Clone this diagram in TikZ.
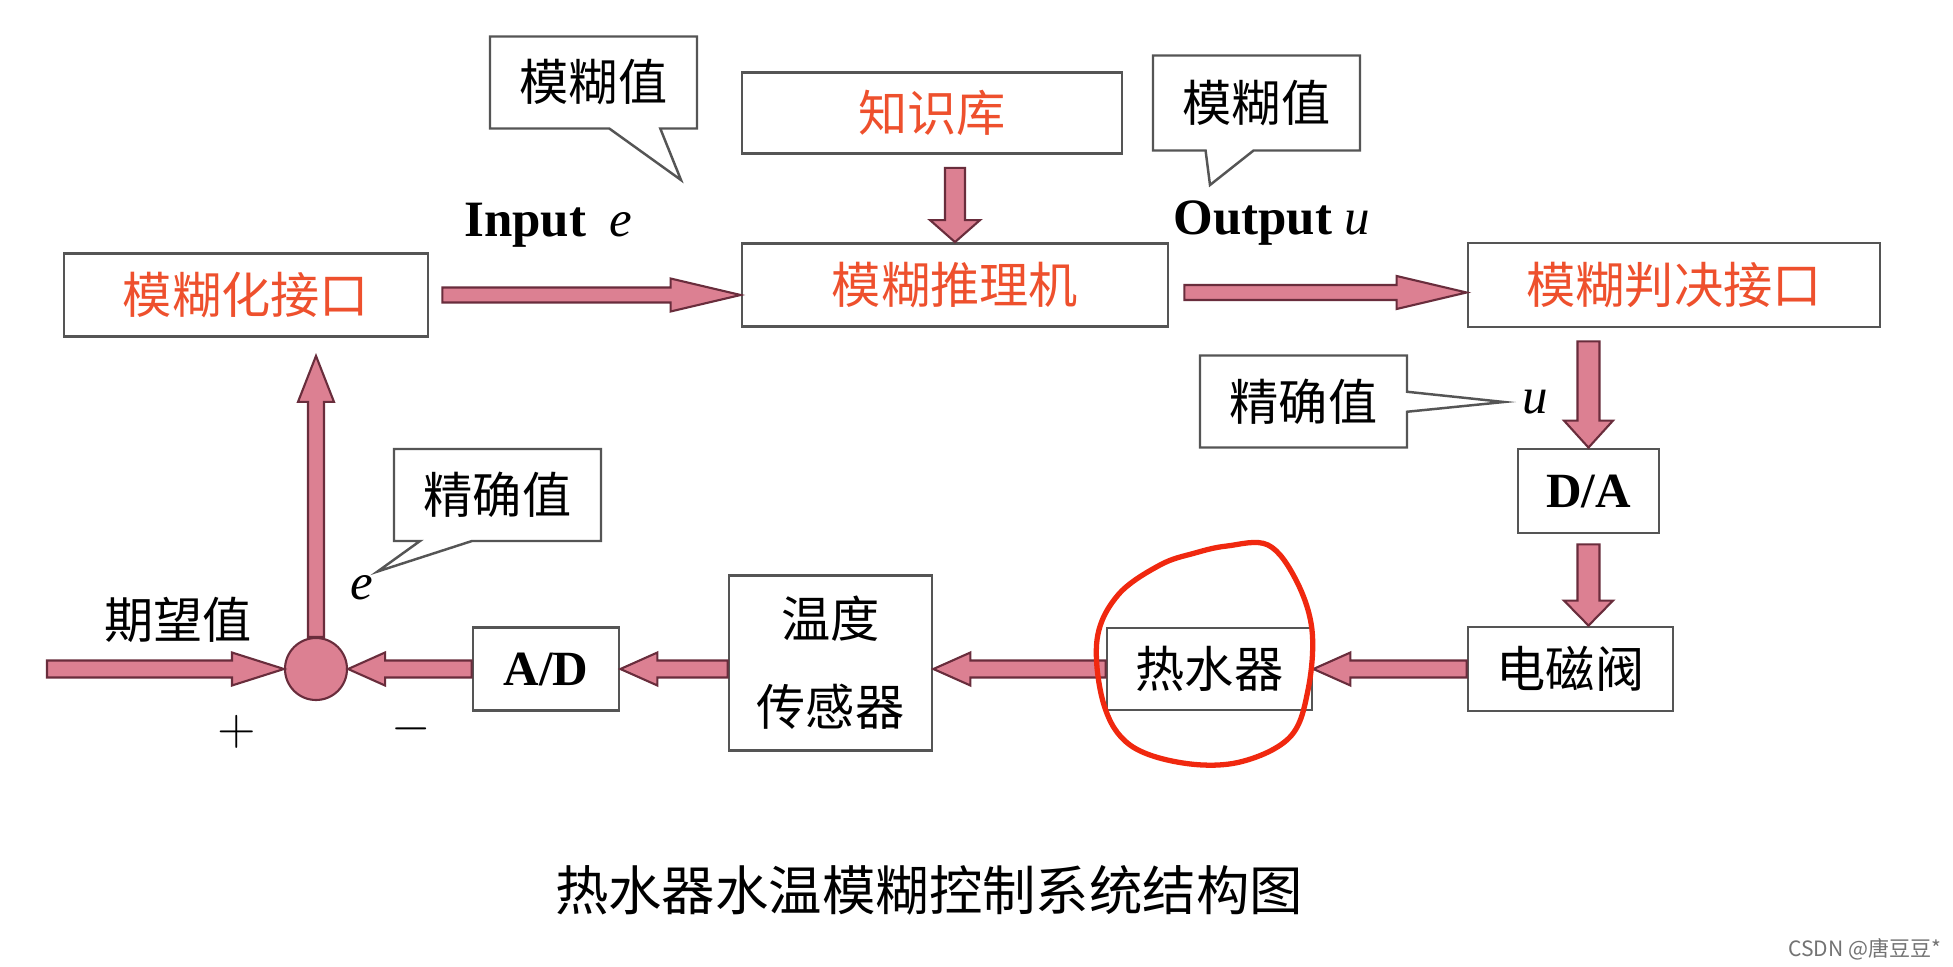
\documentclass[tikz,border=0pt]{standalone}
\usepackage{xcolor}
\usepackage{fontspec}
\usepackage{tikz}
\usetikzlibrary{calc,shapes.callouts}
\setmainfont{Liberation Serif}
\newfontfamily\cjk{Noto Sans CJK SC}

\definecolor{arrowpink}{RGB}{220,128,146}
\definecolor{arrowedge}{RGB}{105,45,60}
\definecolor{boxline}{RGB}{85,85,85}
\definecolor{fuzzyred}{RGB}{238,80,45}
\definecolor{penred}{RGB}{240,40,15}

% block arrow: from, to, half shaft, half head, head length (cm)
\newcommand{\fatarrow}[5]{%
  \coordinate (arrS) at (#1);
  \coordinate (arrT) at (#2);
  \coordinate (arrB) at ($(arrT)!#5cm!(arrS)$);
  \draw[fatarrow] ($(arrS)!#3cm!90:(arrT)$) -- ($(arrB)!#3cm!90:(arrT)$)
    -- ($(arrB)!#4cm!90:(arrT)$) -- (arrT) -- ($(arrB)!#4cm!-90:(arrT)$)
    -- ($(arrB)!#3cm!-90:(arrT)$) -- ($(arrS)!#3cm!-90:(arrT)$) -- cycle;}

\tikzset{
  box/.style={draw=boxline, line width=0.8pt, fill=white, inner sep=0pt,
    font=\cjk\fontsize{14}{16}\selectfont},
  fuzzy/.style={box, text=fuzzyred},
  note/.style={rectangle callout, draw=boxline, line width=0.7pt, fill=white,
    inner sep=0pt, minimum width=2.07cm, minimum height=0.92cm,
    font=\cjk\fontsize{14}{16}\selectfont},
  latin/.style={font=\fontsize{14.5}{16}\selectfont, inner sep=1pt},
  fatarrow/.style={fill=arrowpink, draw=arrowedge, line width=0.6pt, line join=miter},
  pen/.style={draw=penred, line width=1.5pt}
}

\begin{document}
\begin{tikzpicture}
\useasboundingbox[fill=white] (0,0) rectangle (19.53,9.66);

% fuzzy part
\node[fuzzy, minimum width=3.64cm, minimum height=0.83cm] (fz) at (2.46,6.71) {模糊化接口};
\node[fuzzy, minimum width=3.80cm, minimum height=0.81cm] (kb) at (9.32,8.53) {知识库};
\node[fuzzy, minimum width=4.26cm, minimum height=0.83cm] (eng) at (9.55,6.81) {模糊推理机};
\node[fuzzy, minimum width=4.12cm, minimum height=0.84cm] (dec) at (16.74,6.81) {模糊判决接口};

% plant part
\node[box, font=\fontsize{14}{16}\selectfont\bfseries, minimum width=1.41cm, minimum height=0.84cm] (da) at (15.885,4.75) {D/A};
\node[box, minimum width=2.05cm, minimum height=0.84cm] (valve) at (15.705,2.97) {电磁阀};
\node[box, minimum width=2.05cm, minimum height=0.82cm] (heater) at (12.095,2.97) {热水器};
\node[box, align=center, font=\cjk\fontsize{14}{25}\selectfont, minimum width=2.03cm, minimum height=1.75cm] (sensor) at (8.305,3.03) {温度\\传感器};
\node[box, font=\fontsize{14}{16}\selectfont\bfseries, minimum width=1.46cm, minimum height=0.83cm] (ad) at (5.46,2.97) {A/D};
\node[circle, fill=arrowpink, draw=arrowedge, line width=0.6pt, minimum size=0.62cm, inner sep=0pt] (sum) at (3.16,2.97) {};

% labels
\node[latin] (inlbl) at (5.48,7.41) {\textbf{Input}\hspace{0.45em}\textit{e}};
\node[latin] (outlbl) at (12.72,7.43) {\textbf{Output}~\textit{u}};
\node[latin] (elbl) at (3.62,3.78) {\textit{e}};
\node[latin] (ulbl) at (15.35,5.64) {\textit{u}};
\node[font=\cjk\fontsize{14}{16}\selectfont] (want) at (1.78,3.46) {期望值};
\node[font=\fontsize{14}{16}\selectfont] (plus) at (2.37,2.34) {$+$};
\node[font=\fontsize{14}{16}\selectfont] (minus) at (4.11,2.37) {$-$};

% callouts
\coordinate (tipin) at (6.81,7.86);
\coordinate (tipout) at (12.10,7.81);
\node[note, callout absolute pointer={(tipin)}, callout pointer width=0.51cm] (fv1) at (5.935,8.835) {模糊值};
\node[note, minimum height=0.95cm, callout absolute pointer={(tipout)}, callout pointer width=0.48cm] (fv2) at (12.565,8.63) {模糊值};
\node[note, callout absolute pointer={([xshift=-.14cm]ulbl.west)}, callout pointer width=0.2cm] (cv1) at (13.035,5.645) {精确值};
\node[note, callout absolute pointer={(elbl.north east)}, callout pointer width=0.52cm] (cv2) at (4.975,4.71) {精确值};

% arrows
\coordinate (kbout) at (eng.north |- kb.south);
\coordinate (decout) at (da.north |- dec.south);
\coordinate (fzin) at (sum.north |- fz.south);
\coordinate (setp) at (0.47,2.97);
\fatarrow{[xshift=.13cm]fz.east}{fz.east -| eng.west}{.075}{.165}{.70}
\fatarrow{[yshift=-.13cm]kbout}{eng.north}{.10}{.25}{.22}
\fatarrow{[xshift=.15cm,yshift=-.075cm]eng.east}{[yshift=-.075cm]dec.west}{.075}{.165}{.70}
\fatarrow{[yshift=-.13cm]decout}{da.north}{.11}{.245}{.27}
\fatarrow{[yshift=-.10cm]da.south}{da.south |- valve.north}{.11}{.245}{.25}
\fatarrow{valve.west}{heater.east}{.085}{.165}{.37}
\fatarrow{heater.west}{heater.west -| sensor.east}{.085}{.165}{.37}
\fatarrow{ad.east -| sensor.west}{ad.east}{.085}{.165}{.37}
\fatarrow{ad.west}{sum.east}{.085}{.165}{.37}
\fatarrow{setp}{sum.west}{.085}{.165}{.52}
\fatarrow{sum.north}{[yshift=-.18cm]fzin}{.08}{.18}{.46}

% hand drawn mark
\draw[pen] plot[smooth cycle, tension=0.6] coordinates {
  (12.27,4.20) (12.68,4.21) (12.96,3.86) (13.12,3.36) (13.08,2.76) (12.90,2.29) (12.40,2.04)
  (11.83,2.03) (11.30,2.21) (11.04,2.61) (10.97,3.26) (11.18,3.71) (11.60,4.01) (11.95,4.13)};

\node[font=\cjk\fontsize{15.2}{17}\selectfont] (title) at (9.29,0.76) {热水器水温模糊控制系统结构图};
\node[font=\cjk\fontsize{6}{7}\selectfont, text=black!55] (mark) at (18.65,0.17) {CSDN @唐豆豆*};
\end{tikzpicture}
\end{document}
